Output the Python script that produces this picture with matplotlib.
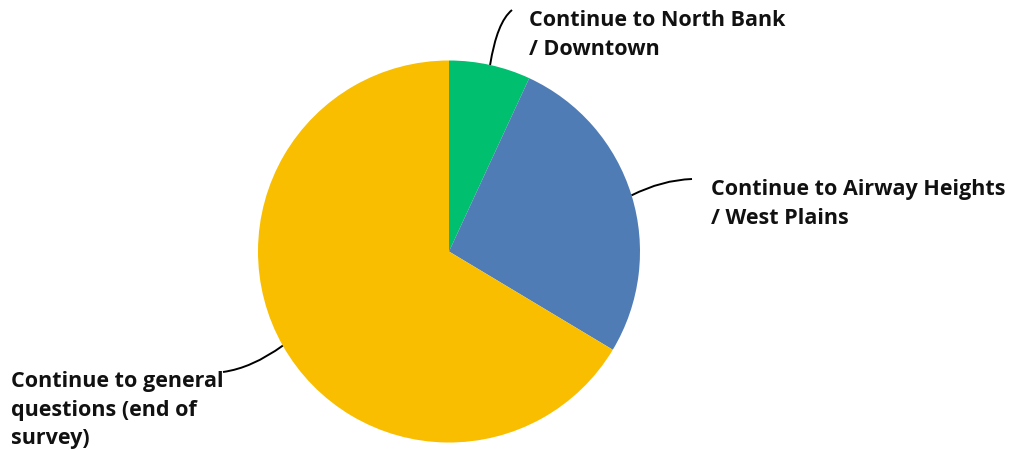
import numpy as np
import matplotlib
matplotlib.use("Agg")
import matplotlib.pyplot as plt
from matplotlib.path import Path
from matplotlib.patches import PathPatch

# Survey routing shares (percent of respondents)
categories = [
    "Continue to North Bank\n/ Downtown",
    "Continue to Airway Heights\n/ West Plains",
    "Continue to general\nquestions (end of\nsurvey)",
]
shares = [6.9, 26.7, 66.4]
colors = ["#00BF6F", "#507CB6", "#F9BE00"]

W, H = 1013, 450
fig = plt.figure(figsize=(W / 100, H / 100), dpi=100)
ax = fig.add_axes([0, 0, 1, 1])

cx, cy, R = 449, H - 251.5, 191
wedges, _ = ax.pie(shares, colors=colors, startangle=90, counterclock=False,
                   center=(cx, cy), radius=R, frame=True,
                   wedgeprops=dict(linewidth=0))
ax.set_xlim(0, W)
ax.set_ylim(0, H)
ax.set_aspect("equal")
ax.axis("off")

# label placement: text anchor (left, top of first line), leader end, curve control
label_pos = [(529, H - 10), (711, H - 179), (11, H - 371)]
leader_end = [(512, H - 10), (692, H - 179), (223, H - 372)]
leader_ctrl = [(497, H - 22), (662, H - 180), (252, H - 368)]

for w, text, (tx, ty), end, ctrl in zip(wedges, categories, label_pos,
                                         leader_end, leader_ctrl):
    mid = np.deg2rad((w.theta1 + w.theta2) / 2)
    start = (cx + R * np.cos(mid), cy + R * np.sin(mid))
    path = Path([start, ctrl, end], [Path.MOVETO, Path.CURVE3, Path.CURVE3])
    ax.add_patch(PathPatch(path, fill=False, edgecolor="black", lw=1.4))
    ax.text(tx, ty, text, ha="left", va="top", fontsize=15.5,
            family="Open Sans", fontweight="bold", color="#111111",
            linespacing=1.47)

fig.savefig("out.png", dpi=100)
